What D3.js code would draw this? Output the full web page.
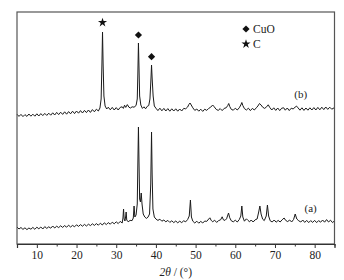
<!DOCTYPE html>
<html><head><meta charset="utf-8">
<script src="https://cdn.jsdelivr.net/npm/d3@7"></script>
<style>body{margin:0;background:#fff}svg{display:block}</style>
</head><body>
<script>
// ---- data (2θ in degrees, intensity in a.u.; (b) is drawn with an offset already included) ----
const seriesA = [[5,170],[5.5,150],[6,165],[6.5,146],[7,162],[7.5,144],[8,160],[8.5,148],[9,166],[9.5,147],[10,168],[10.5,152],[11,170],[11.5,150],[12,174],[12.5,156],[13,172],[13.5,158],[14,180],[14.5,160],[15,178],[15.5,164],[16,182],[16.5,166],[17,184],[17.5,168],[18,188],[18.5,170],[19,186],[19.5,172],[20,192],[20.5,176],[21,194],[21.5,178],[22,196],[22.5,180],[23,198],[23.5,184],[24,202],[24.5,186],[25,204],[25.5,188],[26,208],[26.5,190],[27,212],[27.5,194],[28,214],[28.5,198],[29,218],[29.5,202],[30,222],[30.5,204],[31,226],[31.5,210],[31.7,260],[31.85,350],[32.0,250],[32.2,230],[32.4,280],[32.5,320],[32.65,240],[33,222],[33.5,236],[34,234],[34.3,260],[34.5,380],[34.7,270],[35.0,290],[35.3,400],[35.45,800],[35.6,1170],[35.75,800],[35.9,450],[36.1,420],[36.3,510],[36.5,400],[36.8,300],[37.2,270],[37.6,256],[38.0,268],[38.4,300],[38.7,600],[38.9,1120],[39.05,700],[39.25,350],[39.6,270],[40,250],[40.5,236],[41,248],[41.5,228],[42,240],[42.5,222],[43,236],[43.5,216],[44,232],[44.5,214],[45,230],[45.5,212],[46,228],[46.5,214],[47,232],[47.5,222],[48,245],[48.4,280],[48.7,440],[48.95,270],[49.3,228],[49.8,210],[50.3,228],[50.8,208],[51.3,226],[51.8,210],[52.3,230],[52.8,226],[53.3,250],[53.6,262],[53.9,238],[54.3,222],[54.8,238],[55.3,216],[55.8,234],[56.3,242],[56.7,272],[57.0,242],[57.4,236],[57.8,252],[58.3,310],[58.6,262],[59,232],[59.5,222],[60,238],[60.5,220],[61,244],[61.4,280],[61.65,380],[61.9,270],[62.3,228],[62.8,252],[63.2,236],[63.6,222],[64,240],[64.5,220],[65,242],[65.5,250],[65.9,320],[66.2,380],[66.5,300],[66.9,248],[67.3,234],[67.8,280],[68.1,390],[68.4,280],[68.8,232],[69.3,220],[69.8,240],[70.3,218],[70.8,236],[71.3,220],[71.8,242],[72.3,260],[72.7,236],[73.2,224],[73.7,240],[74.2,220],[74.7,246],[75.1,300],[75.5,250],[76,232],[76.5,220],[77,240],[77.5,216],[78,236],[78.5,214],[79,234],[79.5,216],[80,236],[80.5,214],[81,234],[81.5,218],[82,240],[82.5,218],[83,244],[83.5,220],[84,238],[84.5,214],[85,232]];
const seriesB = [[5,1298],[5.5,1276],[6,1296],[6.5,1274],[7,1294],[7.5,1276],[8,1300],[8.5,1278],[9,1298],[9.5,1278],[10,1302],[10.5,1280],[11,1304],[11.5,1284],[12,1306],[12.5,1286],[13,1308],[13.5,1288],[14,1312],[14.5,1290],[15,1316],[15.5,1294],[16,1318],[16.5,1296],[17,1322],[17.5,1298],[18,1324],[18.5,1302],[19,1328],[19.5,1304],[20,1330],[20.5,1308],[21,1334],[21.5,1310],[22,1336],[22.5,1314],[23,1340],[23.5,1316],[24,1344],[24.5,1322],[25,1348],[25.5,1330],[25.9,1360],[26.2,1450],[26.4,1800],[26.55,2120],[26.7,1800],[26.9,1480],[27.2,1380],[27.6,1350],[28,1368],[28.5,1342],[29,1366],[29.5,1340],[30,1364],[30.5,1340],[31,1366],[31.5,1372],[31.8,1356],[32.1,1388],[32.4,1366],[32.8,1394],[33.2,1368],[33.6,1360],[34,1372],[34.5,1368],[35,1385],[35.3,1450],[35.45,1700],[35.6,2010],[35.75,1750],[35.9,1480],[36.2,1390],[36.6,1356],[37,1372],[37.4,1352],[37.8,1376],[38.2,1385],[38.5,1450],[38.75,1650],[38.9,1790],[39.05,1660],[39.3,1480],[39.6,1380],[40,1358],[40.5,1334],[41,1358],[41.5,1332],[42,1356],[42.5,1330],[43,1354],[43.5,1328],[44,1352],[44.5,1330],[45,1352],[45.5,1328],[46,1350],[46.5,1330],[47,1356],[47.5,1352],[48,1370],[48.3,1395],[48.6,1410],[48.9,1390],[49.3,1362],[49.8,1336],[50.3,1350],[50.8,1328],[51.3,1348],[51.8,1326],[52.3,1348],[52.8,1336],[53.3,1356],[53.8,1368],[54.3,1390],[54.7,1372],[55.2,1346],[55.7,1336],[56.2,1354],[56.7,1334],[57.2,1356],[57.7,1362],[58.1,1385],[58.35,1405],[58.6,1375],[59,1346],[59.5,1338],[60,1358],[60.5,1340],[61,1362],[61.4,1390],[61.65,1415],[61.9,1385],[62.3,1354],[62.8,1340],[63.3,1358],[63.8,1334],[64.3,1356],[64.8,1340],[65.3,1362],[65.7,1380],[66.1,1405],[66.5,1390],[66.9,1368],[67.4,1356],[67.9,1372],[68.3,1392],[68.7,1365],[69.2,1340],[69.7,1362],[70.2,1336],[70.7,1360],[71.2,1334],[71.7,1358],[72.2,1362],[72.6,1338],[73.1,1360],[73.6,1334],[74.1,1358],[74.6,1350],[75.1,1370],[75.4,1380],[75.8,1362],[76.3,1338],[76.8,1362],[77.3,1336],[77.8,1360],[78.3,1338],[78.8,1362],[79.3,1340],[79.8,1364],[80.3,1340],[80.8,1366],[81.3,1342],[81.8,1368],[82.3,1344],[82.8,1370],[83.3,1346],[83.8,1368],[84.3,1348],[85,1364]];
const markerTheta = [26.55, 35.6, 38.9];
const markerY = [2215, 2090, 1873];
const markerPhase = ["C", "CuO", "CuO"];
const legendPhases = ["CuO", "C"];
const seriesLabels = ["(a)", "(b)"];
const seriesLabelTheta = [79, 76.5];
const seriesLabelY = [325, 1460];
const xTicks = [10, 20, 30, 40, 50, 60, 70, 80];
const xMinorTicks = [5, 15, 25, 35, 45, 55, 65, 75, 85];

// ---- layout ----
const W = 344, H = 280;
const m = {left: 17, right: 9.5, top: 12, bottom: 36};
const FONT = "'Liberation Serif','Times New Roman',serif";
const svg = d3.select("body").append("svg").attr("width", W).attr("height", H)
  .attr("font-family", FONT);
svg.append("rect").attr("width", W).attr("height", H).attr("fill", "#fff");

const x = d3.scaleLinear().domain([5, 85]).range([m.left, W - m.right]);
const y = d3.scaleLinear().domain([0, 2320]).range([H - m.bottom, m.top]);

const line = d3.line().x(d => x(d[0])).y(d => y(d[1]));
[seriesA, seriesB].forEach(s => {
  svg.append("path").datum(s).attr("d", line)
    .attr("fill", "none").attr("stroke", "#1a1a1a").attr("stroke-width", 1)
    .attr("stroke-linejoin", "round");
});

// frame
const x0 = x.range()[0], x1 = x.range()[1], y0 = y.range()[0], y1 = y.range()[1];
svg.append("rect").attr("x", x0).attr("y", y1).attr("width", x1 - x0).attr("height", y0 - y1)
  .attr("fill", "none").attr("stroke", "#555").attr("stroke-width", 1.2);

// bottom axis
const ax = svg.append("g").attr("transform", `translate(0,${y0})`)
  .call(d3.axisBottom(x).tickValues(xTicks).tickSize(4).tickPadding(3).tickFormat(d3.format("d")));
ax.attr("font-family", FONT);
ax.select(".domain").attr("stroke", "#333").attr("stroke-width", 1.2);
ax.selectAll(".tick line").attr("stroke", "#333");
ax.selectAll("text").attr("font-size", 11.5).attr("fill", "#222");
svg.append("g").attr("transform", `translate(0,${y0})`)
  .call(d3.axisBottom(x).tickValues(xMinorTicks).tickSize(2.5).tickFormat(""))
  .call(g => g.select(".domain").remove())
  .selectAll(".tick line").attr("stroke", "#333");

// axis title
const t = svg.append("text").attr("x", (x0 + x1) / 2).attr("y", 276).attr("text-anchor", "middle")
  .attr("font-size", 11.5).attr("fill", "#222");
t.append("tspan").attr("font-style", "italic").text("2θ");
t.append("tspan").text(" / (°)");

// symbols
const sym = p => p === "C"
  ? d3.symbol().type(d3.symbolStar).size(26)()
  : d3.symbol().type(d3.symbolSquare).size(26)();
const rot = p => p === "C" ? 0 : 45;
markerTheta.forEach((th, i) => {
  svg.append("path").attr("d", sym(markerPhase[i]))
    .attr("transform", `translate(${x(th)},${y(markerY[i])}) rotate(${rot(markerPhase[i])})`)
    .attr("fill", "#111");
});

// legend
const lg = svg.append("g").attr("transform", "translate(246,29)");
legendPhases.forEach((p, i) => {
  lg.append("path").attr("d", sym(p)).attr("transform", `translate(0,${i * 15}) rotate(${rot(p)})`).attr("fill", "#111");
  lg.append("text").attr("x", 7).attr("y", i * 15 + 4).attr("font-size", 11.5).attr("fill", "#222").text(p);
});

// series labels
seriesLabels.forEach((l, i) => {
  svg.append("text").attr("x", x(seriesLabelTheta[i])).attr("y", y(seriesLabelY[i])).attr("text-anchor", "middle")
    .attr("font-size", 11).attr("fill", "#222").text(l);
});
</script>
</body></html>
